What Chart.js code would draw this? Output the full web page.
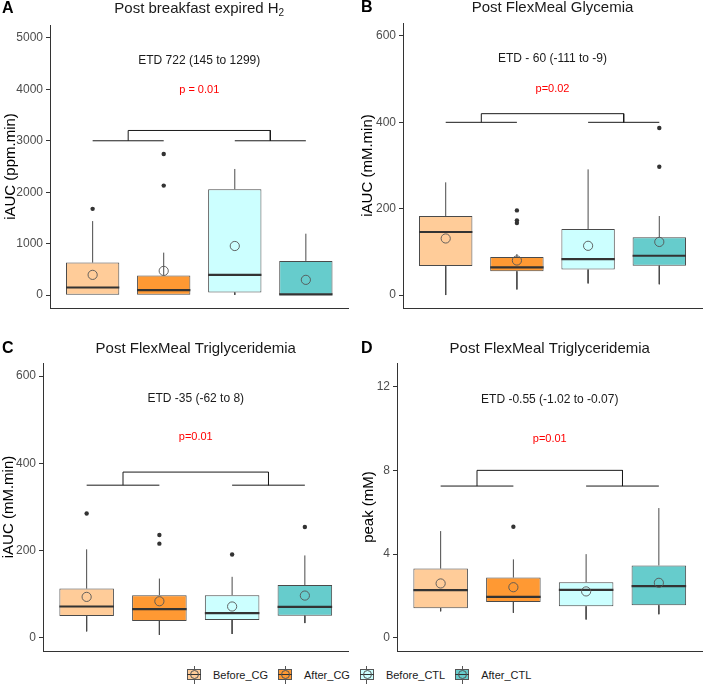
<!DOCTYPE html>
<html>
<head>
<meta charset="utf-8">
<script src="https://cdn.jsdelivr.net/npm/chart.js@4.4.1/dist/chart.umd.min.js"></script>
<style>
  html, body { margin: 0; padding: 0; background: #fff; }
  body { width: 708px; height: 687px; position: relative; overflow: hidden;
         font-family: "Liberation Sans", Arial, sans-serif; }
  canvas.panel { position: absolute; }
  #legend { position: absolute; left: 187px; top: 666px; height: 18px; display: flex; align-items: center; }
  .item { display: flex; align-items: center; margin-right: 10px; }
  .key { position: relative; width: 14px; height: 18px; margin-right: 12px; }
  .key .wh { position: absolute; left: 6.5px; top: 0; width: 1px; height: 18px; background: #555; }
  .key .bx { position: absolute; left: 0; top: 3px; width: 12px; height: 9px; border: 1px solid #555; }
  .key .md { position: absolute; left: 0; top: 7.5px; width: 14px; height: 1.5px; background: #333; }
  .key .mn { position: absolute; left: 3px; top: 4px; width: 7px; height: 7px; border: 1px solid #555; border-radius: 50%; }
  .txt { font-size: 11px; color: #1a1a1a; line-height: 18px; }
</style>
</head>
<body>
<canvas class="panel" id="pA" width="354" height="320" style="left:0;top:0"></canvas>
<canvas class="panel" id="pB" width="354" height="320" style="left:354px;top:0"></canvas>
<canvas class="panel" id="pC" width="354" height="345" style="left:0;top:320px"></canvas>
<canvas class="panel" id="pD" width="354" height="345" style="left:354px;top:320px"></canvas>
<div id="legend"></div>
<script>
// ---------- categories ----------
const groups = ['Before_CG', 'After_CG', 'Before_CTL', 'After_CTL'];
const groupColors = ['#FFCC99', '#FF9933', '#CCFFFF', '#66CCCC'];
const groupX = [1, 2, 3, 4];

// ---------- Panel A: post breakfast expired H2 (ppm.min) ----------
const h2Q1 = [0, 0, 52, 0];
const h2Median = [148, 97, 394, 13];
const h2Q3 = [632, 381, 2058, 665];
const h2WhiskerLow = [0, 0, 5, 0];
const h2WhiskerHigh = [1439, 826, 2452, 1194];
const h2Mean = [394, 471, 955, 297];
const h2Outliers = [[1677], [2742, 2129], [], []];
const h2Ticks = [0, 1000, 2000, 3000, 4000, 5000];
const h2Bracket = [3000, 3200];

// ---------- Panel B: post FlexMeal glycemia iAUC (mM.min) ----------
const glyQ1 = [67, 55, 59, 68];
const glyMedian = [146, 64, 83, 91];
const glyQ3 = [183, 88, 153, 134];
const glyWhiskerLow = [0, 13, 27, 25];
const glyWhiskerHigh = [261, 95, 291, 183];
const glyMean = [131, 80, 114, 123];
const glyOutliers = [[], [196, 173, 167], [], [387, 297]];
const glyTicks = [0, 200, 400, 600];
const glyBracket = [400, 420];

// ---------- Panel C: post FlexMeal triglyceridemia iAUC (mM.min) ----------
const tgQ1 = [50, 39, 41, 51];
const tgMedian = [72, 66, 57, 71];
const tgQ3 = [113, 98, 98, 121];
const tgWhiskerLow = [15, 7, 9, 34];
const tgWhiskerHigh = [203, 136, 140, 189];
const tgMean = [94, 84, 72, 97];
const tgOutliers = [[285], [236, 216], [191], [254]];
const tgTicks = [0, 200, 400, 600];
const tgBracket = [350, 380];

// ---------- Panel D: post FlexMeal triglyceridemia peak (mM) ----------
const pkQ1 = [1.42, 1.71, 1.51, 1.56];
const pkMedian = [2.28, 1.96, 2.29, 2.47];
const pkQ3 = [3.31, 2.88, 2.66, 3.46];
const pkWhiskerLow = [1.27, 1.20, 0.88, 1.13];
const pkWhiskerHigh = [5.10, 3.75, 4.00, 6.20];
const pkMean = [2.60, 2.42, 2.22, 2.63];
const pkOutliers = [[], [5.31], [], []];
const pkTicks = [0, 4, 8, 12];
const pkBracket = [7.25, 8];

// ---------- styling ----------
const FONT = '"Liberation Sans", Arial, sans-serif';
const AXIS = '#333333';
const OUTLINE = '#4a4a4a';
const BOX_WIDTH = 0.75;

function buildDatasets(d) {
  const boxes = groupX.map((x, i) => ({ x: x, y: [d.q1[i], d.q3[i]] }));
  const whiskers = [];
  groupX.forEach((x, i) => {
    whiskers.push({ x: x, y: d.q3[i] }, { x: x, y: d.hi[i] }, { x: x, y: null });
    whiskers.push({ x: x, y: d.q1[i] }, { x: x, y: d.lo[i] }, { x: x, y: null });
  });
  const medians = [];
  groupX.forEach((x, i) => {
    medians.push({ x: x - BOX_WIDTH / 2, y: d.med[i] }, { x: x + BOX_WIDTH / 2, y: d.med[i] }, { x: x, y: null });
  });
  const outliers = [];
  groupX.forEach((x, i) => d.out[i].forEach(v => outliers.push({ x: x, y: v })));
  const means = groupX.map((x, i) => ({ x: x, y: d.mean[i] }));
  const b0 = d.bracket[0], b1 = d.bracket[1];
  const m1 = (groupX[0] + groupX[1]) / 2, m2 = (groupX[2] + groupX[3]) / 2;
  const bracket = [
    { x: groupX[0], y: b0 }, { x: groupX[1], y: b0 }, { x: groupX[1], y: null },
    { x: groupX[2], y: b0 }, { x: groupX[3], y: b0 }, { x: groupX[3], y: null },
    { x: m1, y: b0 }, { x: m1, y: b1 }, { x: m2, y: b1 }, { x: m2, y: b0 }
  ];
  return [
    { type: 'line', data: whiskers, borderColor: OUTLINE, borderWidth: 1, pointRadius: 0, spanGaps: false, order: 6 },
    { type: 'bar', data: boxes, backgroundColor: groupColors, borderColor: OUTLINE, borderWidth: 1,
      borderSkipped: false, barPercentage: BOX_WIDTH, categoryPercentage: 1, order: 5 },
    { type: 'line', data: medians, borderColor: '#333333', borderWidth: 2.2, pointRadius: 0, spanGaps: false,
      borderCapStyle: 'butt', order: 3 },
    { type: 'line', data: outliers, showLine: false, pointRadius: 2.2, pointBackgroundColor: '#333333',
      pointBorderWidth: 0, order: 2 },
    { type: 'line', data: means, showLine: false, pointRadius: 4.6, pointBackgroundColor: 'rgba(0,0,0,0)',
      pointBorderColor: '#555555', pointBorderWidth: 0.9, order: 1 },
    { type: 'line', data: bracket, borderColor: '#1a1a1a', borderWidth: 1, pointRadius: 0, spanGaps: false,
      borderCapStyle: 'butt', order: 4 }
  ];
}

const panelTextPlugin = {
  id: 'panelText',
  afterDraw(chart, args, o) {
    const { ctx, chartArea, scales } = chart;
    ctx.save();
    ctx.textBaseline = 'middle';
    // panel letter
    ctx.fillStyle = '#000';
    ctx.textAlign = 'left';
    ctx.font = 'bold 16px ' + FONT;
    ctx.fillText(o.letter, o.letterX, o.titleY);
    // title (with optional subscript)
    ctx.font = '15px ' + FONT;
    const w1 = ctx.measureText(o.title).width;
    let w2 = 0;
    if (o.titleSub) { ctx.font = '10px ' + FONT; w2 = ctx.measureText(o.titleSub).width; }
    const cx = (chartArea.left + chartArea.right) / 2;
    const x0 = cx - (w1 + w2) / 2;
    ctx.font = '15px ' + FONT;
    ctx.fillStyle = '#1a1a1a';
    ctx.fillText(o.title, x0, o.titleY);
    if (o.titleSub) { ctx.font = '10px ' + FONT; ctx.fillText(o.titleSub, x0 + w1, o.titleY + 4); }
    // annotations
    const ax = scales.x.getPixelForValue(o.textX);
    ctx.textAlign = 'center';
    ctx.font = '12px ' + FONT;
    ctx.fillStyle = '#1a1a1a';
    ctx.fillText(o.etd, ax, scales.y.getPixelForValue(o.etdY));
    ctx.font = '11px ' + FONT;
    ctx.fillStyle = '#ff0000';
    ctx.fillText(o.p, ax, scales.y.getPixelForValue(o.pY));
    ctx.restore();
  }
};

function makePanel(id, d, layout, text) {
  new Chart(document.getElementById(id), {
    type: 'bar',
    data: { datasets: buildDatasets(d) },
    options: {
      responsive: false,
      animation: false,
      devicePixelRatio: 1,
      layout: { padding: layout.pad },
      plugins: { legend: { display: false }, tooltip: { enabled: false }, title: { display: false }, panelText: text },
      scales: {
        x: {
          type: 'linear', min: 0.4, max: 4.6, offset: false,
          afterBuildTicks: s => { s.ticks = groupX.map(v => ({ value: v })); },
          ticks: { display: false },
          grid: { display: false },
          border: { display: true, color: AXIS, width: 1 },
          afterFit: s => { s.height = 0; }
        },
        y: {
          type: 'linear', min: d.ymin, max: d.ymax,
          afterBuildTicks: s => { s.ticks = d.ticks.map(v => ({ value: v })); },
          ticks: { color: '#4d4d4d', font: { family: FONT, size: 12 }, padding: 3, callback: v => String(v) },
          grid: { display: true, drawOnChartArea: false, drawTicks: true, tickLength: 4, color: AXIS },
          border: { display: true, color: AXIS, width: 1 },
          title: { display: true, text: d.yTitle, color: '#000', font: { family: FONT, size: 15 },
                   padding: { top: layout.yTitlePad, bottom: 0 } },
          afterFit: s => { s.width = layout.yWidth; }
        }
      }
    },
    plugins: [panelTextPlugin]
  });
}

makePanel('pA',
  { q1: h2Q1, med: h2Median, q3: h2Q3, lo: h2WhiskerLow, hi: h2WhiskerHigh, mean: h2Mean, out: h2Outliers,
    ticks: h2Ticks, bracket: h2Bracket, ymin: -250, ymax: 5250, yTitle: 'iAUC (ppm.min)' },
  { pad: { top: 25, right: 5, bottom: 12, left: 0 }, yWidth: 50, yTitlePad: 2 },
  { letter: 'A', letterX: 2, titleY: 9, title: 'Post breakfast expired H', titleSub: '2',
    textX: 2.5, etd: 'ETD 722 (145 to 1299)', etdY: 4550, p: 'p = 0.01', pY: 3980 });

makePanel('pB',
  { q1: glyQ1, med: glyMedian, q3: glyQ3, lo: glyWhiskerLow, hi: glyWhiskerHigh, mean: glyMean, out: glyOutliers,
    ticks: glyTicks, bracket: glyBracket, ymin: -30, ymax: 630, yTitle: 'iAUC (mM.min)' },
  { pad: { top: 23, right: 6, bottom: 12, left: 0 }, yWidth: 49, yTitlePad: 5 },
  { letter: 'B', letterX: 7, titleY: 8, title: 'Post FlexMeal Glycemia', titleSub: '',
    textX: 2.5, etd: 'ETD - 60 (-111 to -9)', etdY: 548, p: 'p=0.02', pY: 478 });

makePanel('pC',
  { q1: tgQ1, med: tgMedian, q3: tgQ3, lo: tgWhiskerLow, hi: tgWhiskerHigh, mean: tgMean, out: tgOutliers,
    ticks: tgTicks, bracket: tgBracket, ymin: -30, ymax: 630, yTitle: 'iAUC (mM.min)' },
  { pad: { top: 43, right: 4, bottom: 14, left: 0 }, yWidth: 43, yTitlePad: 0 },
  { letter: 'C', letterX: 2, titleY: 29, title: 'Post FlexMeal Triglyceridemia', titleSub: '',
    textX: 2.5, etd: 'ETD -35 (-62 to 8)', etdY: 548, p: 'p=0.01', pY: 460 });

makePanel('pD',
  { q1: pkQ1, med: pkMedian, q3: pkQ3, lo: pkWhiskerLow, hi: pkWhiskerHigh, mean: pkMean, out: pkOutliers,
    ticks: pkTicks, bracket: pkBracket, ymin: -0.625, ymax: 13.125, yTitle: 'peak (mM)' },
  { pad: { top: 43, right: 3, bottom: 14, left: 0 }, yWidth: 43, yTitlePad: 6 },
  { letter: 'D', letterX: 7, titleY: 29, title: 'Post FlexMeal Triglyceridemia', titleSub: '',
    textX: 2.5, etd: 'ETD -0.55 (-1.02 to -0.07)', etdY: 11.39, p: 'p=0.01', pY: 9.48 });

// ---------- shared legend ----------
const legend = document.getElementById('legend');
groups.forEach((g, i) => {
  const item = document.createElement('div');
  item.className = 'item';
  item.innerHTML = '<div class="key"><div class="wh"></div><div class="bx" style="background:' + groupColors[i] +
    '"></div><div class="md"></div><div class="mn"></div></div><span class="txt">' + g + '</span>';
  legend.appendChild(item);
});
</script>
</body>
</html>
